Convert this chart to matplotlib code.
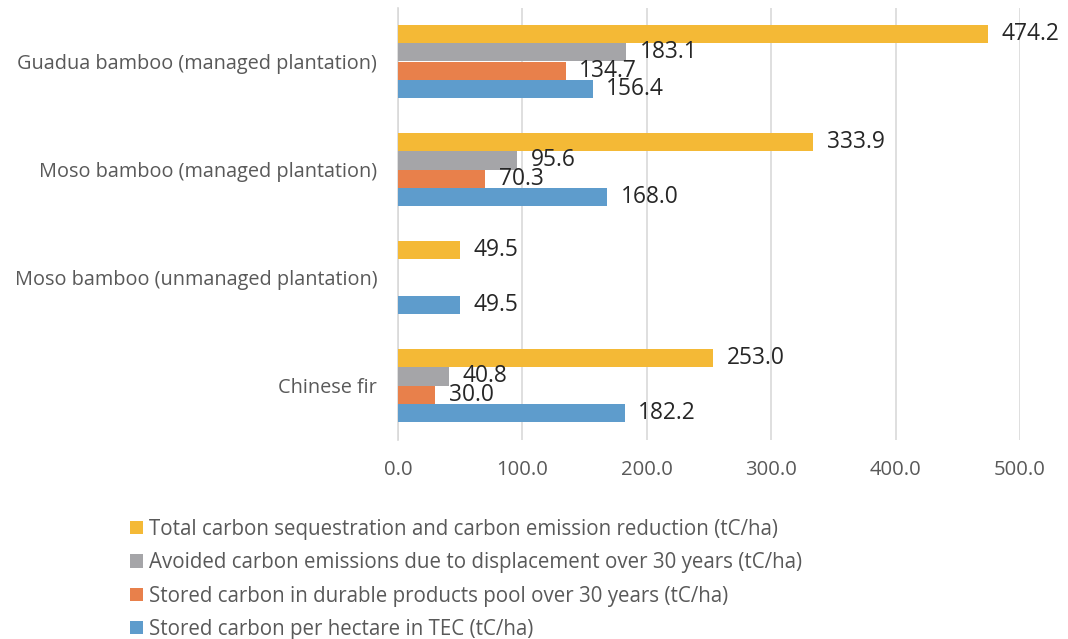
import numpy as np
import matplotlib
matplotlib.use("Agg")
import matplotlib.pyplot as plt
from matplotlib.patches import Patch

plt.rcParams['font.family'] = ['Open Sans', 'DejaVu Sans']

categories = ["Guadua bamboo (managed plantation)",
              "Moso bamboo (managed plantation)",
              "Moso bamboo (unmanaged plantation)",
              "Chinese fir"]
total = [474.2, 333.9, 49.5, 253.0]
avoided = [183.1, 95.6, np.nan, 40.8]
durable = [134.7, 70.3, np.nan, 30.0]
tec = [156.4, 168.0, 49.5, 182.2]
series_names = ["Total carbon sequestration and carbon emission reduction (tC/ha)",
                "Avoided carbon emissions due to displacement over 30 years (tC/ha)",
                "Stored carbon in durable products pool over 30 years (tC/ha)",
                "Stored carbon per hectare in TEC (tC/ha)"]
xticks = [0, 100, 200, 300, 400, 500]

colors = ['#F4B936', '#A5A5A8', '#E8804B', '#5E9CCC']
series = [total, avoided, durable, tec]

fig = plt.figure(figsize=(10.68, 6.39), dpi=100)
ax = fig.add_axes([398/1068, 1-439.5/639, (1020-398)/1068, (439.5-7.5)/639])

h = 0.1667
y = np.arange(len(categories))
offsets = [-1.5*h, -0.5*h, 0.5*h, 1.5*h]
for vals, c, off in zip(series, colors, offsets):
    v = np.array(vals, dtype=float)
    ax.barh(y + off, v, height=h, color=c, zorder=3)
    for yi, vi in zip(y, v):
        if not np.isnan(vi):
            ax.text(vi + 11, yi + off, f"{vi:.1f}", va='center', ha='left',
                    fontsize=16.4, color='#262626', zorder=4, clip_on=False)

ax.set_ylim(3.5, -0.5)
ax.set_xlim(0, 500)
ax.set_xticks(xticks)
ax.set_xticklabels([f"{t:.1f}" for t in xticks])
ax.set_yticks(y)
ax.set_yticklabels(categories, fontsize=14.3)
ax.tick_params(axis='both', length=0, colors='#595959')
ax.tick_params(axis='x', labelsize=14.6, pad=15)
ax.tick_params(axis='y', pad=15)
ax.grid(axis='x', color='#D9D9D9', linewidth=1.2, zorder=0)
for s in ['top', 'right', 'bottom']:
    ax.spines[s].set_visible(False)
ax.spines['left'].set_color('#D9D9D9')
ax.spines['left'].set_linewidth(1.2)

handles = [Patch(facecolor=c, edgecolor='none') for c in colors]
fig.legend(handles, series_names, loc='upper left',
           bbox_to_anchor=(130/1068, 1-519/639), frameon=False,
           fontsize=14.8, labelcolor='#595959', handlelength=0.62,
           handleheight=0.62, handletextpad=0.3, labelspacing=0.6,
           borderpad=0, borderaxespad=0)

fig.savefig("out.png", dpi=100)
